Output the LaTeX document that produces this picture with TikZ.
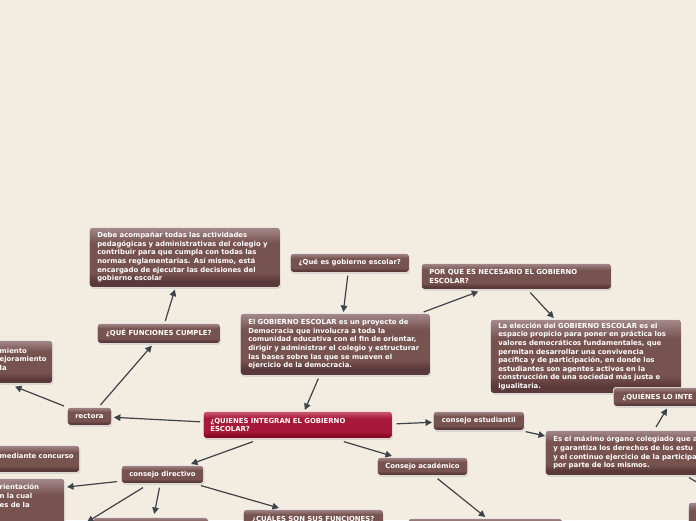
\documentclass[tikz,border=0pt]{standalone}
\usepackage{fontspec}
\setmainfont{DejaVu Sans}
\usetikzlibrary{arrows.meta,calc,shadows}
\hyphenpenalty=10000
\exhyphenpenalty=10000
\definecolor{bg}{HTML}{F2ECE1}
\definecolor{blt}{HTML}{A58A8C}
\definecolor{bmd}{HTML}{775350}
\definecolor{bdk}{HTML}{5A393A}
\definecolor{rlt}{HTML}{CC5F70}
\definecolor{rmd}{HTML}{A8183A}
\definecolor{rdk}{HTML}{880A24}
\definecolor{arrc}{HTML}{3D434B}
\pgfdeclareverticalshading{brownsh}{100bp}{color(0bp)=(bdk); color(25bp)=(bdk); color(30bp)=(bdk); color(37bp)=(bmd); color(62bp)=(bmd); color(75bp)=(blt); color(100bp)=(blt)}
\pgfdeclareverticalshading{redsh}{100bp}{color(0bp)=(rdk); color(25bp)=(rdk); color(30bp)=(rdk); color(37bp)=(rmd); color(62bp)=(rmd); color(75bp)=(rlt); color(100bp)=(rlt)}
\tikzset{
  mbox/.style={shade, shading=brownsh, draw=white, line width=0.6pt, rounded corners=3pt,
    text=white, font=\fontsize{6.9}{8.6}\selectfont\bfseries, inner xsep=8pt, inner ysep=0pt,
    align=left, drop shadow={shadow xshift=0.6pt, shadow yshift=-1.2pt, opacity=0.3}},
  cbox/.style={mbox, align=center},
  rbox/.style={mbox, shading=redsh},
  arr/.style={draw=arrc, line width=1.2pt, -{Triangle[length=6.5pt,width=6.5pt]}},
}
\begin{document}
\begin{tikzpicture}[x=1pt, y=-1pt]
\useasboundingbox (0,0) rectangle (696,520);
\fill[bg] (0,0) rectangle (696,520);
\clip (0,0) rectangle (696,520);

% nodes
\node[mbox, anchor=north west, text width=175pt, minimum height=60pt] (A) at (89,227)
  {Debe acompañar todas las actividades\\pedagógicas y administrativas del colegio y\\contribuir para que cumpla con todas las\\normas reglamentarias. Así mismo, está\\encargado de ejecutar las decisiones del\\gobierno escolar};
\node[cbox, anchor=north west, minimum width=119pt, minimum height=19pt] (Q) at (290,253)
  {¿Qué es gobierno escolar?};
\node[mbox, anchor=north west, text width=174pt, minimum height=62pt] (M) at (240,313)
  {El GOBIERNO ESCOLAR es un proyecto de\\Democracia que involucra a toda la\\comunidad educativa con el fin de orientar,\\dirigir y administrar el colegio y estructurar\\las bases sobre las que se mueven el\\ejercicio de la democracia.};
\node[mbox, anchor=north west, text width=174pt, minimum height=26pt] (P) at (421,263)
  {POR QUE ES NECESARIO EL GOBIERNO\\ESCOLAR?};
\node[mbox, anchor=north west, text width=175pt, minimum height=74pt] (L) at (490,319)
  {La elección del GOBIERNO ESCOLAR es el\\espacio propicio para poner en práctica los\\valores democráticos fundamentales, que\\permitan desarrollar una convivencia\\pacífica y de participación, en donde los\\estudiantes son agentes activos en la\\construcción de una sociedad más justa e\\igualitaria.};
\node[cbox, anchor=north west, minimum width=123pt, minimum height=20pt] (QF) at (97,323)
  {¿QUÉ FUNCIONES CUMPLE?};
\node[mbox, anchor=north east, text width=45pt, minimum height=43pt] (LB) at (53,340)
  {miento\\ejoramiento\\la\\[-3pt]\mbox{}};
\node[cbox, anchor=north west, minimum width=43pt, minimum height=18pt] (rect) at (67,407)
  {rectora};
\node[rbox, anchor=north west, inner xsep=7pt, text width=175pt, minimum height=27pt] (R) at (203,411)
  {¿QUIENES INTEGRAN EL GOBIERNO\\ESCOLAR?};
\node[cbox, anchor=north west, minimum width=91pt, minimum height=19pt] (CE) at (433,411)
  {consejo estudiantil};
\node[mbox, anchor=north west, inner xsep=9pt, text width=130pt, minimum height=19pt] (QL) at (613,387)
  {¿QUIÉNES LO INTE};
\node[mbox, anchor=north west, text width=200pt, minimum height=45pt] (EM) at (545,430)
  {Es el máximo órgano colegiado que a\\y garantiza los derechos de los estu\\y el continuo ejercicio de la participa\\por parte de los mismos.};
\node[mbox, anchor=north east, inner xsep=6pt, text width=74pt, minimum height=27pt] (MC) at (80,445)
  {\mbox{mediante concurso}\\[-3pt]\mbox{}};
\node[cbox, anchor=north west, minimum width=82pt, minimum height=18pt] (CD) at (121,465)
  {consejo directivo};
\node[cbox, anchor=north west, minimum width=90pt, minimum height=18pt] (CA) at (377,457)
  {Consejo académico};
\node[mbox, anchor=north east, inner ysep=6pt, text width=57pt] (LB2) at (65,478)
  {rientación\\n la cual\\es de la\\[20pt]\mbox{}};
\node[mbox, anchor=north west, minimum width=115pt, minimum height=20pt] (B17) at (93,517) {};
\node[cbox, anchor=north west, minimum width=140pt, minimum height=20pt] (CU) at (243,509)
  {¿CUÁLES SON SUS FUNCIONES?};
\node[mbox, anchor=north west, minimum width=154pt, minimum height=20pt] (B19) at (408,518) {};
\node[mbox, anchor=north west, minimum width=40pt, minimum height=30pt] (B20) at (688,502) {};
\coordinate (off1) at (87,522);
\coordinate (off2) at (710,490);

% connectors
\draw[arr] ($(QF.north)+(6.5,-2)$) -- ($(A.south)+(-10,2)$);
\draw[arr] ($(Q.south)+(-2,3)$) -- ($(M.north)+(8,-1)$);
\draw[arr] ($(M.north east)+(-7,-1)$) -- ($(P.south)+(-38,2)$);
\draw[arr] ($(P.south)+(14,3)$) -- ($(L.north)+(-32,-1)$);
\draw[arr] ($(M.south)+(-17,3)$) -- ($(R.north)+(7,-1)$);
\draw[arr] ($(R.west)+(-3,-3)$) -- ($(rect.east)+(2,1)$);
\draw[arr] ($(rect.north)+(11,-2)$) -- ($(QF.south)+(-7,2)$);
\draw[arr] ($(rect.north west)+(-3,-1)$) -- ($(LB.south east)+(-38,3)$);
\draw[arr] ($(R.east)+(4,-1)$) -- ($(CE.west)+(-1,1.5)$);
\draw[arr] ($(CE.south east)+(1,1)$) -- ($(EM.north west)+(0,6)$);
\draw[arr] ($(EM.north west)+(111,-3)$) -- ($(QL.south west)+(54,2)$);
\draw[arr] ($(R.south west)+(50,3)$) -- ($(CD.north east)+(-13,-1)$);
\draw[arr] ($(R.south)+(46,3)$) -- ($(CA.north west)+(15,-1)$);
\draw[arr] ($(CD.south west)+(-4,-2)$) -- ($(LB2.north east)+(2,9)$);
\draw[arr] ($(CD.south west)+(22,4)$) -- (off1);
\draw[arr] ($(CD.south)+(-3,4)$) -- ($(B17.north)+(3.5,-3)$);
\draw[arr] ($(CD.south east)+(-3,2)$) -- ($(CU.north west)+(36,-1)$);
\draw[arr] ($(CA.south)+(15,3)$) -- ($(B19.north)+(0,-1)$);
\draw[arr] ($(EM.south west)+(144,2)$) -- (off2);
\end{tikzpicture}
\end{document}
